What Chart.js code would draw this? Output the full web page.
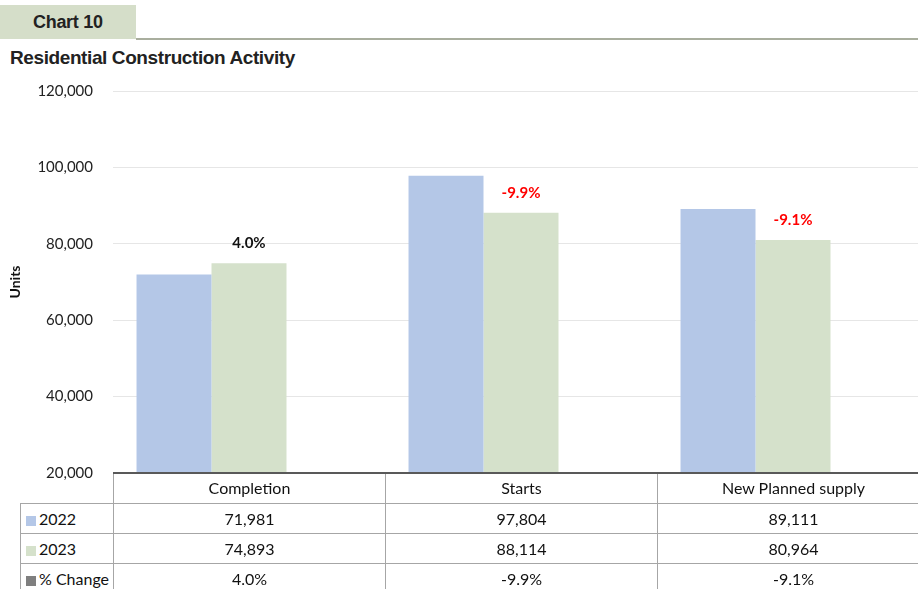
<!DOCTYPE html>
<html>
<head>
<meta charset="utf-8">
<script src="https://cdn.jsdelivr.net/npm/chart.js@4.4.0/dist/chart.umd.min.js"></script>
<style>
  html, body { margin: 0; padding: 0; background: #fff; width: 918px; height: 589px; overflow: hidden; }
  #wrap { position: relative; width: 918px; height: 589px; overflow: hidden; }
  .tag { position: absolute; left: 0; top: 5px; width: 136px; height: 34px; background: #d5dec9;
         font: bold 18px "Liberation Sans Narrow", "Arial Narrow", sans-serif; color: #222;
         line-height: 34px; padding-left: 33px; box-sizing: border-box; letter-spacing: -0.3px; }
  .rule { position: absolute; left: 136px; top: 38px; width: 790px; height: 2px; background: #a9ae9e; }
  .title { position: absolute; left: 10px; top: 47px; font: bold 19px "Liberation Sans Narrow", "Arial Narrow", sans-serif;
           color: #222; letter-spacing: -0.4px; }
  #chartBox { position: absolute; left: 0; top: 62px; width: 935px; height: 440px; }
  .cell { position: absolute; box-sizing: border-box; font: 16px Lato, sans-serif; color: #111;
          text-align: center; line-height: 29px; white-space: nowrap; }
  .key { display: inline-block; width: 10px; height: 10px; margin-right: 3px; vertical-align: -1px; }
</style>
</head>
<body>
<div id="wrap">
  <div class="tag">Chart 10</div>
  <div class="rule"></div>
  <div class="title">Residential Construction Activity</div>
  <div id="chartBox"><canvas id="chart" width="935" height="440"></canvas></div>
  <div id="table"></div>
</div>
<script>
// --- datos ---
const categories = ['Completion', 'Starts', 'New Planned supply'];
const units2022 = [71981, 97804, 89111];
const units2023 = [74893, 88114, 80964];
const pctChange = [4.0, -9.9, -9.1];
const yMin = 20000, yMax = 120000, yStep = 20000;

const seriesNames = ['2022', '2023', '% Change'];
const seriesColors = ['#b4c7e7', '#d5e1cb', '#7f7f7f'];

const fmtUnits = v => v.toLocaleString('en-US');
const fmtPct = v => v.toFixed(1) + '%';

// etiquetas de % encima de la barra 2023
const pctLabels = {
  id: 'pctLabels',
  afterDatasetsDraw(chart) {
    const meta = chart.getDatasetMeta(1);
    const c = chart.ctx;
    c.save();
    c.font = 'bold 15px Lato, sans-serif';
    c.textAlign = 'center';
    c.textBaseline = 'middle';
    meta.data.forEach((bar, i) => {
      c.fillStyle = pctChange[i] < 0 ? '#ff0000' : '#111';
      c.fillText(fmtPct(pctChange[i]), bar.x, bar.y - 20);
    });
    c.restore();
  }
};

const chart = new Chart(document.getElementById('chart').getContext('2d'), {
  type: 'bar',
  data: {
    labels: categories,
    datasets: [
      { label: seriesNames[0], data: units2022, backgroundColor: seriesColors[0] },
      { label: seriesNames[1], data: units2023, backgroundColor: seriesColors[1] },
      // la serie de % queda por debajo del mínimo del eje, igual que en el original
      { label: seriesNames[2], data: pctChange, backgroundColor: seriesColors[2], clip: 0 }
    ]
  },
  options: {
    responsive: false,
    animation: false,
    layout: { padding: { top: 22, bottom: 10, left: 0, right: 6 } },
    datasets: { bar: { categoryPercentage: 0.827, barPercentage: 1, borderWidth: 0 } },
    plugins: { legend: { display: false }, tooltip: { enabled: false } },
    scales: {
      x: { display: false },
      y: {
        min: yMin, max: yMax,
        ticks: { stepSize: yStep, callback: v => fmtUnits(v), font: { family: 'Lato', size: 15 }, color: '#222', padding: 20 },
        grid: { color: '#e6e6e6', drawTicks: false },
        border: { display: false },
        title: { display: true, text: 'Units', font: { family: 'Lato', size: 14, weight: 'bold' }, color: '#111', padding: { top: 7, bottom: 4 } },
        afterFit: s => { s.width = 113; }
      }
    }
  },
  plugins: [pctLabels]
});

// --- tabla de datos bajo el gráfico ---
const table = document.getElementById('table');
const area = chart.chartArea;
const colW = (area.right - area.left) / categories.length;
const top0 = 62 + area.bottom;
const rowH = 30;
const rows = [
  null,
  units2022.map(fmtUnits),
  units2023.map(fmtUnits),
  pctChange.map(fmtPct)
];

const addCell = (x, y, w, html, style) => {
  const d = document.createElement('div');
  d.className = 'cell';
  d.style.cssText = `left:${x}px;top:${y}px;width:${w}px;height:${rowH}px;` + (style || '');
  d.innerHTML = html;
  table.appendChild(d);
};

rows.forEach((row, r) => {
  const y = top0 + r * rowH;
  const bt = r > 0 ? 'border-top:1px solid #a6a6a6;' : '';
  if (r > 0) {
    addCell(20, y, area.left - 20,
      `<span class="key" style="background:${seriesColors[r - 1]}"></span>${seriesNames[r - 1]}`,
      bt + 'border-left:1px solid #a6a6a6;text-align:left;padding-left:5px;');
  }
  categories.forEach((cat, c) => {
    addCell(area.left + c * colW, y, colW, r === 0 ? cat : row[c], bt + 'border-left:1px solid #a6a6a6;');
  });
});

// línea del eje x
const axis = document.createElement('div');
axis.style.cssText = `position:absolute;left:${area.left}px;top:${top0 - 1}px;width:${area.right - area.left}px;height:2px;background:#595959;`;
table.appendChild(axis);
</script>
</body>
</html>
